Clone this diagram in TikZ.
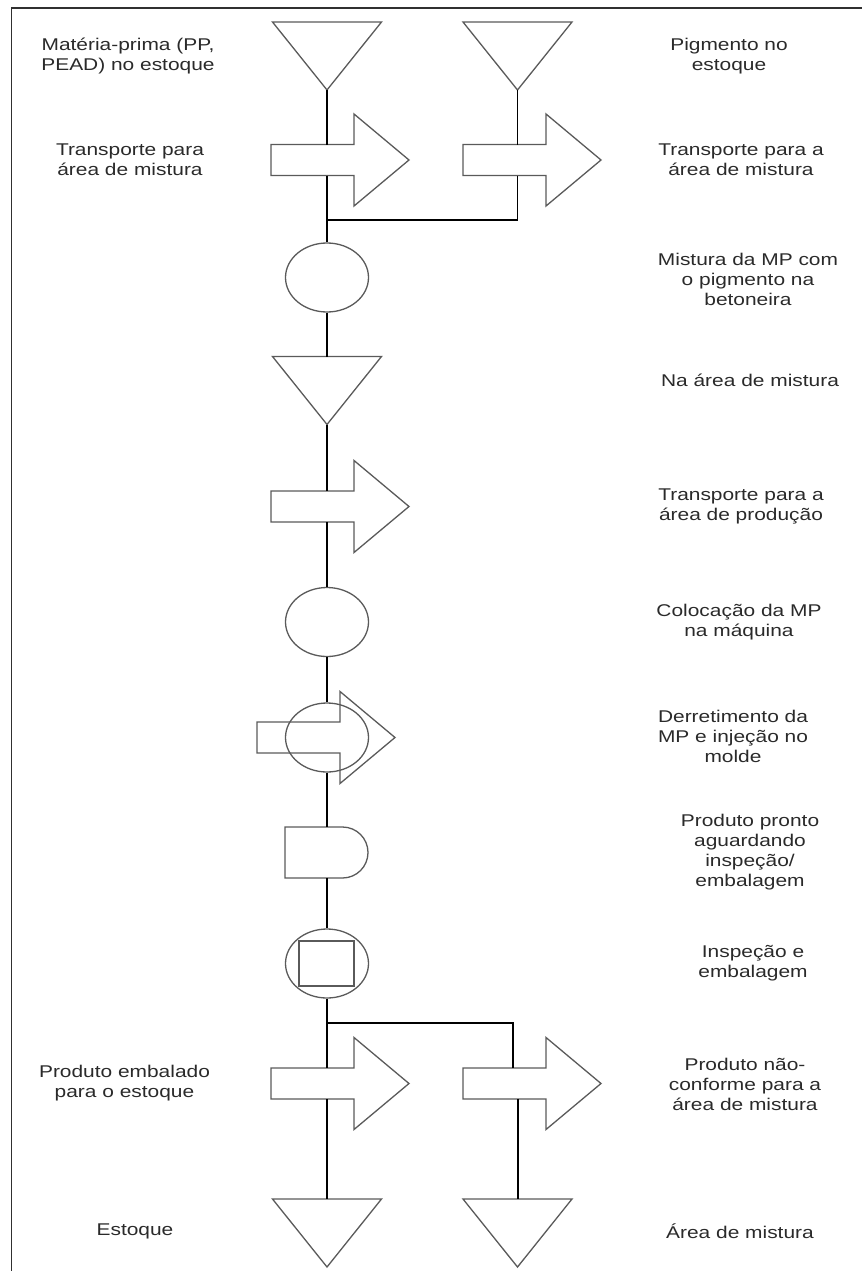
\documentclass[tikz,border=0pt]{standalone}
\usepackage{fontspec}
\newfontfamily\lblfont{Liberation Sans}[FakeStretch=1.23]
\usetikzlibrary{shapes.geometric}
\definecolor{shapegray}{HTML}{5A5A5A}
\definecolor{textgray}{HTML}{2A2A2A}
\definecolor{framegray}{HTML}{303030}

\tikzset{
  shp/.style={draw=shapegray, line width=1.3pt},
  conn/.style={draw=black, line width=1.4pt},
  lbl/.style={text=textgray, align=center, inner sep=0pt,
              font=\lblfont\fontsize{17}{20}\selectfont},
  oval/.style={shp, ellipse, minimum width=83pt, minimum height=69pt, inner sep=0pt},
  % storage: inverted triangle, centre at the origin
  pics/storage/.style={code={
    \draw[shp, fill=white] (-54.5,-34) -- (54.5,-34) -- (0,34) -- cycle;
    \coordinate (-top) at (0,-34);
    \coordinate (-apex) at (0,34);
  }},
  % transport: block arrow, origin at the left end of its body
  pics/transport/.style={code={
    \draw[shp, fill=#1] (0,-15.5) -- (83,-15.5) -- (83,-46) -- (138,0)
      -- (83,46) -- (83,15.5) -- (0,15.5) -- cycle;
    \coordinate (-n) at (0,-15.5);
    \coordinate (-s) at (0,15.5);
  }},
  pics/transport/.default=white,
  % delay: D shape, origin at the middle of its flat side
  pics/delay/.style={code={
    \draw[shp, fill=white] (0,-25.5) -- (57.5,-25.5) arc(-90:90:25.5) -- (0,25.5) -- cycle;
  }},
}

\begin{document}
\begin{tikzpicture}[x=1pt, y=-1pt]
\useasboundingbox (0,0) rectangle (862,1271);

% frame
\draw[draw=framegray, line width=1.4pt] (11.5,1272) -- (11.5,8) -- (862,8);

% symbols
\pic (t1) at (327,56) {storage};
\pic (t2) at (517.5,56) {storage};
\pic (a1) at (271,160) {transport};
\pic (a2) at (463,160) {transport};
\node[oval] (e1) at (327,277.5) {};
\pic (t3) at (327,390.5) {storage};
\pic (a3) at (271,506.5) {transport};
\node[oval] (e2) at (327,622) {};
\pic (a4) at (257,737.5) {transport=none};
\node[oval] (e3) at (327,737.5) {};
\pic (d1) at (285,852.5) {delay};
\coordinate (d1-n) at (327,827);
\coordinate (d1-s) at (327,878);
\node[oval] (e4) at (327,963.5) {};
\node[shp, rectangle, minimum width=55pt, minimum height=45pt, inner sep=0pt] (q1) at (326.5,963.5) {};
\pic (a5) at (271,1083.5) {transport};
\pic (a6) at (463,1083.5) {transport};
\pic (t5) at (327,1233) {storage};
\pic (t6) at (517.5,1233) {storage};

% connectors
\coordinate (j1) at (327,220);
\coordinate (j2) at (327,1023);
\draw[conn] (t1-apex) -- (t1-apex |- a1-n);
\draw[conn] (t1-apex |- a1-s) -- (e1.north);
\draw[conn] (t2-apex) -- (t2-apex |- a2-n);
\draw[conn] (t2-apex |- a2-s) |- (j1);
\draw[conn] (e1.south) -- (t3-top);
\draw[conn] (t3-apex) -- (t3-apex |- a3-n);
\draw[conn] (t3-apex |- a3-s) -- (e2.north);
\draw[conn] (e2.south) -- (e3.north);
\draw[conn] (e3.south) -- (d1-n);
\draw[conn] (d1-s) -- (e4.north);
\draw[conn] (e4.south) -- (e4.south |- a5-n);
\draw[conn] (j2) -| (513,1068);
\draw[conn] (e4.south |- a5-s) -- (t5-top);
\draw[conn] (518,1099) -- (518,1199);

% labels
\node[lbl] (l1) at (128,56) {Matéria-prima (PP,\\PEAD) no estoque};
\node[lbl] (l2) at (130,160) {Transporte para\\área de mistura};
\node[lbl] (l3) at (124.5,1083.5) {Produto embalado\\para o estoque};
\node[lbl] (l4) at (135,1231) {Estoque};

\node[lbl] (r1) at (729,56) {Pigmento no\\estoque};
\node[lbl] (r2) at (741,160) {Transporte para a\\área de mistura};
\node[lbl] (r3) at (748,279) {Mistura da MP com\\o pigmento na\\betoneira};
\node[lbl] (r4) at (750,380) {Na área de mistura};
\node[lbl] (r5) at (741,506) {Transporte para a\\área de produção};
\node[lbl] (r6) at (739,622) {Colocação da MP\\na máquina};
\node[lbl] (r7) at (733,736) {Derretimento da\\MP e injeção no\\molde};
\node[lbl] (r8) at (750,852) {Produto pronto\\aguardando\\inspeção/\\embalagem};
\node[lbl] (r9) at (753,963) {Inspeção e\\embalagem};
\node[lbl] (r10) at (745,1084) {Produto não-\\conforme para a\\área de mistura};
\node[lbl] (r11) at (740,1231) {Área de mistura};
\end{tikzpicture}
\end{document}
